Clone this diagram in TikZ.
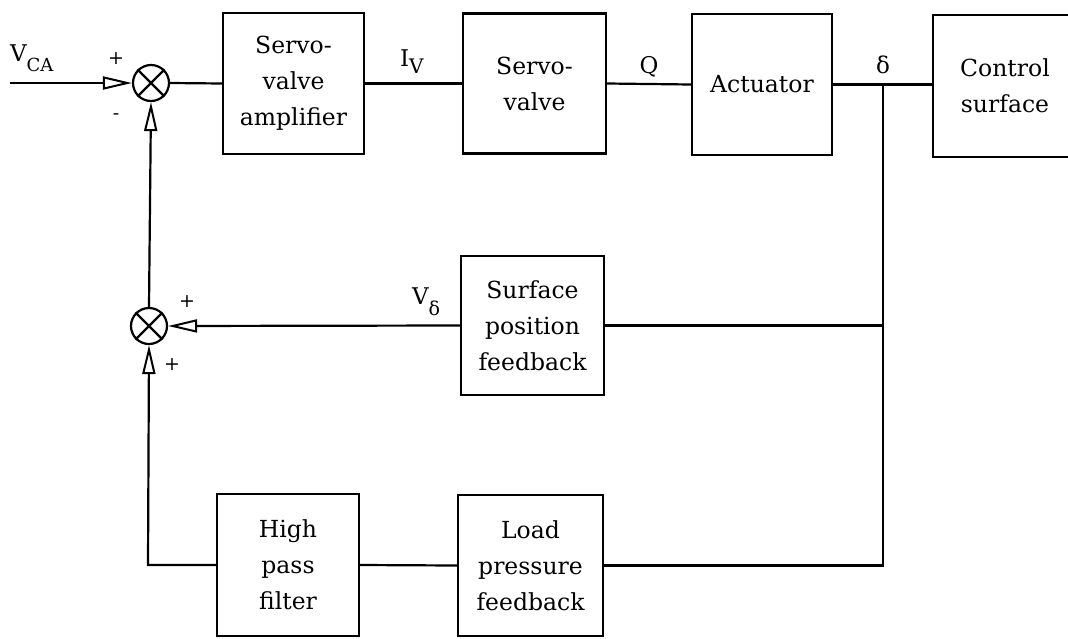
\documentclass[tikz,border=0pt]{standalone}
\usepackage{fontspec}
\setmainfont{DejaVu Serif}
\usetikzlibrary{arrows.meta,calc}
\begin{document}
\begin{tikzpicture}[x=1pt,y=-1pt,
  line width=2.2pt,
  blk/.style={draw, rectangle, inner sep=0pt, align=center, font=\fontsize{23.5}{36}\selectfont},
  sumj/.style={draw, circle, minimum size=36pt, inner sep=0pt},
  lbl/.style={font=\fontsize{23}{26}\selectfont, inner sep=0pt},
  sgn/.style={font=\fontsize{19}{22}\selectfont, inner sep=0pt},
  arr/.style={-{Triangle[open,length=29pt,width=13pt,line width=2pt]}},
]
\useasboundingbox (0,0) rectangle (1068,638);
\clip (0,0) rectangle (1068,638);

% top row
\node[sumj] (j1) at (151,83) {};
\draw (j1.45) -- (j1.225) (j1.135) -- (j1.315);
\node[blk, minimum width=141pt, minimum height=141pt] (amp) at (293.5,83.5) {Servo-\\valve\\amplifier};
\node[blk, minimum width=143pt, minimum height=140pt] (sv) at (534.5,83.5) {Servo-\\valve};
\node[blk, minimum width=140pt, minimum height=141pt] (act) at (762,84.5) {Actuator};
\node[blk, minimum width=144pt, minimum height=142pt] (cs) at (1005,86) {Control\\surface};

% middle row
\node[sumj] (j2) at (149,326) {};
\draw (j2.45) -- (j2.225) (j2.135) -- (j2.315);
\node[blk, minimum width=143pt, minimum height=139pt] (spf) at (532.5,325.5) {Surface\\position\\feedback};

% bottom row
\node[blk, minimum width=142pt, minimum height=142pt] (hpf) at (288,565) {High\\pass\\filter};
\node[blk, minimum width=145pt, minimum height=141pt] (lpf) at (530.5,565.5) {Load\\pressure\\feedback};

% coordinates
\coordinate (vin) at (10,83);
\coordinate (d) at ($(act.east -| 0,0)+(883,0)$);
\coordinate (dbot) at ($(lpf.east -| 0,0)+(883,0)$);
\coordinate (hl) at ($(hpf.west -| 0,0)+(148,0)$);

% connectors
\draw[arr] (vin) -- (j1.west);
\draw (j1.east) -- (amp.west);
\draw (amp.east) -- (sv.west);
\draw (sv.east) -- (act.west);
\draw (act.east) -- (act.east -| cs.west);
\draw (d) -- (dbot) -- (lpf.east);
\draw (spf.east) -- (spf.east -| d);
\draw[arr] (spf.west) -- (j2.east);
\draw (lpf.west) -- (hpf.east);
\draw[arr] (hpf.west) -- (hl) -- (j2.south);
\draw[arr] (j2.north) -- (j1.south);

% labels
\node[lbl, anchor=base west] (vca) at (9,61) {V\raisebox{-10pt}{\fontsize{18}{18}\selectfont CA}};
\node[lbl, anchor=base west] (iv) at (399,66) {I\raisebox{-7pt}{\fontsize{20}{20}\selectfont V}};
\node[lbl, anchor=base] (q) at (649,73) {Q};
\node[lbl, anchor=base] (dl) at (883,73) {δ};
\node[lbl, anchor=base west] (vd) at (411,304) {V\raisebox{-11pt}{\fontsize{19}{19}\selectfont δ}};
\node[sgn] (p1) at (116,59) {+};
\node[sgn] (m1) at (116,117) {-};
\node[sgn] (p2) at (187,302) {+};
\node[sgn] (p3) at (172,365) {+};
\end{tikzpicture}
\end{document}
